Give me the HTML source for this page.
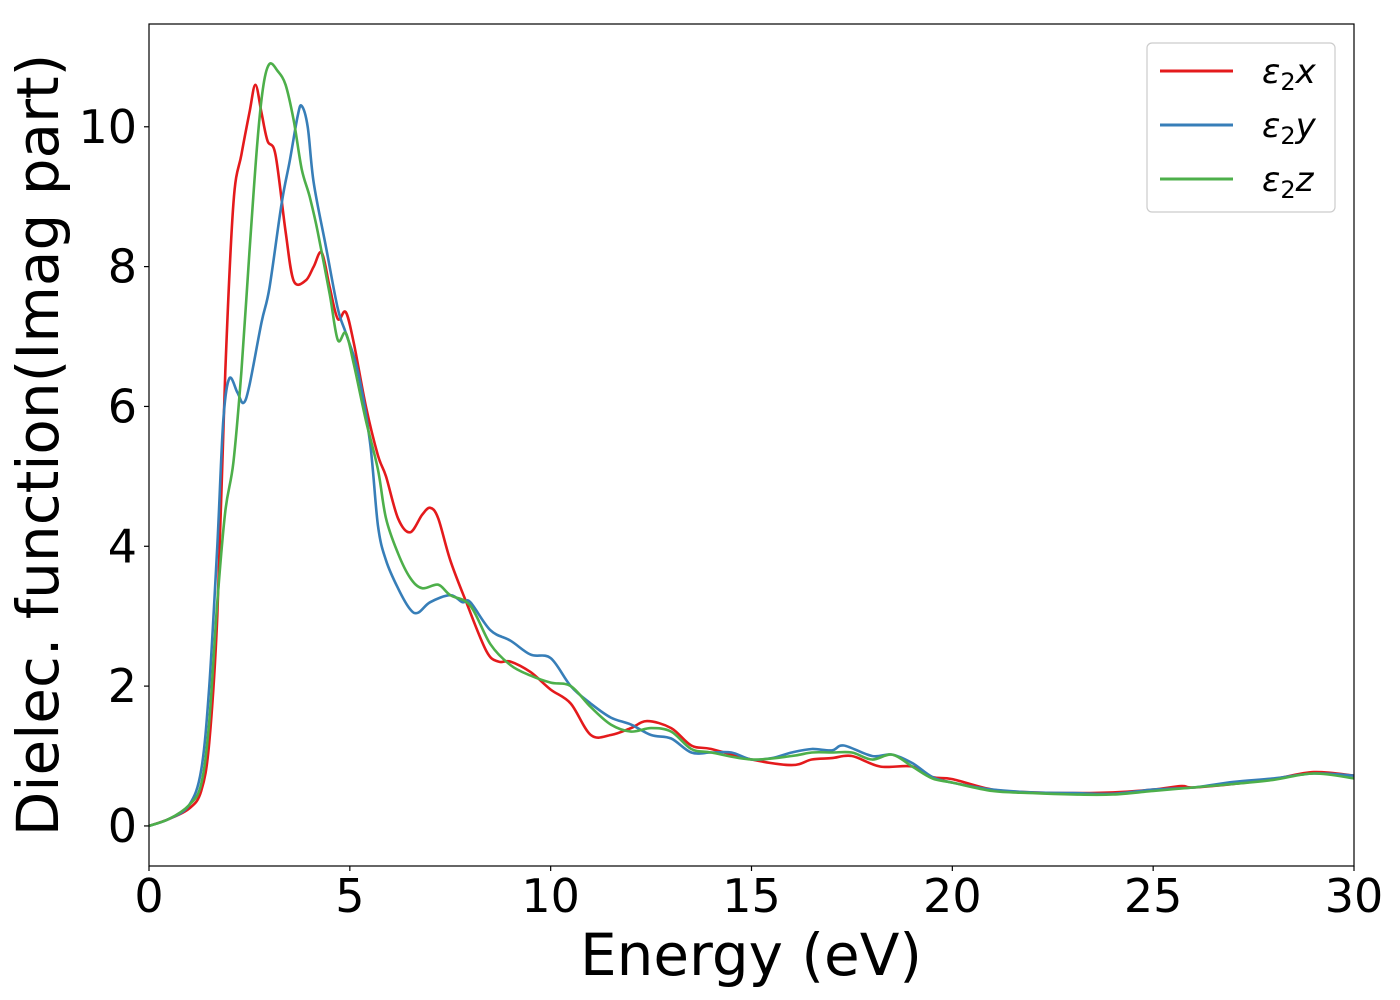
<!DOCTYPE html>
<html><head><meta charset="utf-8"><style>
html,body{margin:0;padding:0;background:#fff;}
svg{display:block;font-family:"DejaVu Sans","Liberation Sans",sans-serif;}
</style></head><body>
<svg id="chart" width="1400" height="1000" viewBox="0 0 1400 1000">
<rect x="0" y="0" width="1400" height="1000" fill="#fff"/>
<g id="plot"></g>
<g id="axes"></g>
<text x="751" y="975" font-size="58" text-anchor="middle" fill="#000">Energy (eV)</text>
<text transform="translate(58,445) rotate(-90)" font-size="58" text-anchor="middle" fill="#000">Dielec. function(Imag part)</text>
<g>
<rect x="1147" y="43" width="188" height="169" rx="5" fill="#fff" stroke="#ccc" stroke-width="1.2"/>
<line x1="1160" y1="71" x2="1233" y2="71" stroke="#e41a1c" stroke-width="3"/>
<text x="1262" y="83" font-size="34" font-style="italic">ε<tspan font-size="24" font-style="normal" dy="7">2</tspan><tspan dy="-7">x</tspan></text>
<line x1="1160" y1="125" x2="1233" y2="125" stroke="#377eb8" stroke-width="3"/>
<text x="1262" y="137" font-size="34" font-style="italic">ε<tspan font-size="24" font-style="normal" dy="7">2</tspan><tspan dy="-7">y</tspan></text>
<line x1="1160" y1="179" x2="1233" y2="179" stroke="#4daf4a" stroke-width="3"/>
<text x="1262" y="191" font-size="34" font-style="italic">ε<tspan font-size="24" font-style="normal" dy="7">2</tspan><tspan dy="-7">z</tspan></text>
</g>
</svg>
<script>
const xTicks=[0,5,10,15,20,25,30];
const yTicks=[0,2,4,6,8,10];
const seriesNames=["x","y","z"];
const seriesColors=["#e41a1c","#377eb8","#4daf4a"];
const xE=[0,0.5,1,1.3,1.5,1.7,1.9,2.1,2.3,2.5,2.65,2.8,2.95,3.15,3.4,3.6,3.9,4.1,4.3,4.5,4.7,4.9,5.1,5.4,5.7,5.9,6.2,6.5,6.8,7.0,7.2,7.5,7.9,8.4,8.7,9.0,9.5,10,10.5,11,11.5,12,12.4,13,13.5,14,15,16,16.5,17,17.5,18.2,19,19.5,20,21,22,23,24,25,25.7,26,27,28,29,30];
const xV=[0,0.1,0.25,0.5,1.2,3,6.5,8.9,9.6,10.2,10.6,10.2,9.8,9.6,8.5,7.8,7.8,8.0,8.2,7.7,7.25,7.35,6.9,6,5.3,5.0,4.4,4.2,4.45,4.55,4.4,3.8,3.2,2.5,2.35,2.35,2.2,1.95,1.75,1.3,1.3,1.4,1.5,1.4,1.15,1.1,0.95,0.87,0.95,0.97,1.0,0.85,0.85,0.7,0.67,0.52,0.48,0.47,0.48,0.52,0.57,0.55,0.6,0.67,0.77,0.72];
const yE=[0,0.5,1,1.3,1.5,1.7,1.85,2.0,2.2,2.35,2.5,2.8,3.0,3.3,3.5,3.7,3.8,3.95,4.1,4.4,4.7,4.9,5.2,5.5,5.7,5.9,6.2,6.5,6.7,7,7.5,7.8,8.0,8.5,9,9.5,10,10.5,11,11.5,12,12.5,13,13.5,14,14.5,15,15.5,16,16.5,17,17.3,18,18.5,19,19.5,20,21,22,23,24,25,26,27,28,29,30];
const yV=[0,0.1,0.3,0.8,2,4,5.8,6.4,6.2,6.05,6.3,7.2,7.7,8.9,9.5,10.15,10.3,10.0,9.2,8.3,7.4,7.05,6.5,5.5,4.3,3.8,3.4,3.1,3.05,3.2,3.3,3.2,3.2,2.8,2.65,2.45,2.4,2.0,1.75,1.55,1.45,1.3,1.25,1.05,1.05,1.05,0.95,0.97,1.05,1.1,1.08,1.15,1.0,1.02,0.9,0.7,0.62,0.52,0.48,0.47,0.46,0.52,0.55,0.63,0.68,0.75,0.72];
const zE=[0,0.5,1,1.3,1.5,1.7,1.9,2.1,2.3,2.5,2.7,2.85,3.0,3.2,3.4,3.6,3.8,4.0,4.2,4.5,4.7,4.9,5.1,5.4,5.7,5.9,6.2,6.5,6.8,7.2,7.5,8,8.5,9,9.5,10,10.5,11,11.5,12,12.5,13,13.5,14,15,16,16.5,17,17.5,18,18.5,19,19.5,20,21,22,23,24,25,26,27,28,29,30];
const zV=[0,0.1,0.3,0.6,1.5,3.2,4.5,5.2,6.5,8.2,9.8,10.6,10.9,10.8,10.6,10.1,9.4,9.0,8.5,7.6,6.95,7.05,6.6,5.8,5.1,4.4,3.9,3.55,3.4,3.45,3.3,3.15,2.6,2.3,2.15,2.05,2.0,1.7,1.45,1.35,1.4,1.35,1.1,1.05,0.95,1.0,1.05,1.05,1.05,0.95,1.02,0.85,0.68,0.62,0.5,0.47,0.45,0.45,0.5,0.55,0.6,0.66,0.75,0.68];

const L=149,R=1354,T=24,B=866;
const xMin=0,xMax=30,yMin=-0.573,yMax=11.47;
function sx(v){return L+(v-xMin)/(xMax-xMin)*(R-L);}
function sy(v){return B-(v-yMin)/(yMax-yMin)*(B-T);}
const NS="http://www.w3.org/2000/svg";
const plot=document.getElementById('plot');
const axes=document.getElementById('axes');
function pathFor(E,V){
  const p=E.map((e,i)=>[sx(e),sy(V[i])]);
  let d="M"+p[0][0].toFixed(1)+","+p[0][1].toFixed(1);
  for(let i=0;i<p.length-1;i++){
    const p0=p[Math.max(0,i-1)],p1=p[i],p2=p[i+1],p3=p[Math.min(p.length-1,i+2)];
    const c1=[p1[0]+(p2[0]-p0[0])/6,p1[1]+(p2[1]-p0[1])/6];
    const c2=[p2[0]-(p3[0]-p1[0])/6,p2[1]-(p3[1]-p1[1])/6];
    d+=" C"+c1[0].toFixed(1)+","+c1[1].toFixed(1)+" "+c2[0].toFixed(1)+","+c2[1].toFixed(1)+" "+p2[0].toFixed(1)+","+p2[1].toFixed(1);
  }
  return d;
}
const data=[[xE,xV],[yE,yV],[zE,zV]];
data.forEach((s,k)=>{
  const path=document.createElementNS(NS,'path');
  path.setAttribute('d',pathFor(s[0],s[1]));
  path.setAttribute('fill','none');
  path.setAttribute('stroke',seriesColors[k]);
  path.setAttribute('stroke-width','2.6');
  path.setAttribute('stroke-linejoin','round');
  
  
  plot.appendChild(path);
});
const frame=document.createElementNS(NS,'rect');
frame.setAttribute('x',L);frame.setAttribute('y',T);frame.setAttribute('width',R-L);frame.setAttribute('height',B-T);
frame.setAttribute('fill','none');frame.setAttribute('stroke','#000');frame.setAttribute('stroke-width','1.2');


axes.appendChild(frame);
xTicks.forEach(t=>{
  const ln=document.createElementNS(NS,'line');
  ln.setAttribute('x1',sx(t));ln.setAttribute('x2',sx(t));ln.setAttribute('y1',B);ln.setAttribute('y2',B+5);
  ln.setAttribute('stroke','#000');ln.setAttribute('stroke-width','1.2');
  
  
  axes.appendChild(ln);
  const tx=document.createElementNS(NS,'text');
  tx.setAttribute('x',sx(t));tx.setAttribute('y',B+46);tx.setAttribute('font-size','46');tx.setAttribute('text-anchor','middle');
  tx.textContent=t;
  
  
  axes.appendChild(tx);
});
yTicks.forEach(t=>{
  const ln=document.createElementNS(NS,'line');
  ln.setAttribute('x1',L-5);ln.setAttribute('x2',L);ln.setAttribute('y1',sy(t));ln.setAttribute('y2',sy(t));
  ln.setAttribute('stroke','#000');ln.setAttribute('stroke-width','1.2');
  
  
  axes.appendChild(ln);
  const tx=document.createElementNS(NS,'text');
  tx.setAttribute('x',L-12);tx.setAttribute('y',sy(t)+16);tx.setAttribute('font-size','46');tx.setAttribute('text-anchor','end');
  tx.textContent=t;
  
  
  axes.appendChild(tx);
});
</script>
</body></html>
